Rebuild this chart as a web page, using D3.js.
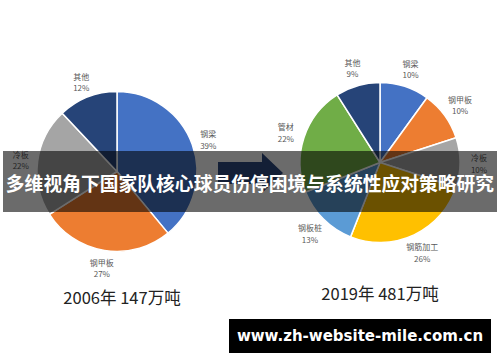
<!DOCTYPE html>
<html><head><meta charset="utf-8">
<script src="https://cdn.jsdelivr.net/npm/d3@7/dist/d3.min.js"></script>
<style>
html,body{margin:0;padding:0;background:#fff;}
svg{display:block;}
</style></head>
<body>
<svg id="chart" width="500" height="362"></svg>
<script>
// ---- data ----
const cats2006 = ["钢梁", "钢甲板", "冷板", "其他"];
const vals2006 = [39, 27, 22, 12];
const cols2006 = ["#4472C4", "#ED7D31", "#A5A5A5", "#264478"];

const cats2019 = ["钢梁", "钢甲板", "冷板", "钢筋加工", "钢板桩", "管材", "其他"];
const vals2019 = [10, 10, 10, 26, 13, 22, 9];
const cols2019 = ["#4472C4", "#ED7D31", "#A5A5A5", "#FFC000", "#5B9BD5", "#70AD47", "#264478"];

const captions = ["2006年 147万吨", "2019年 481万吨"];
const title = "多维视角下国家队核心球员伤停困境与系统性应对策略研究";
const watermark = "www.zh-website-mile.com.cn";

const svg = d3.select("#chart");
const font = "'Noto Sans CJK SC','Noto Sans',sans-serif";
const R = 80;

function drawPie(cx, cy, cats, vals, cols, labelR) {
  const g = svg.append("g").attr("transform", `translate(${cx},${cy})`);
  const pie = d3.pie().sort(null).value(d => d.v)(cats.map((c, i) => ({c, v: vals[i], col: cols[i]})));
  const arc = d3.arc().innerRadius(0).outerRadius(R);
  const lab = d3.arc().innerRadius(labelR).outerRadius(labelR);
  g.selectAll("path").data(pie).join("path")
    .attr("d", arc).attr("fill", d => d.data.col)
    .attr("stroke", "#fff").attr("stroke-width", 1.5).attr("stroke-linejoin", "round");
  const t = g.selectAll("text").data(pie).join("text")
    .attr("transform", d => `translate(${lab.centroid(d)})`)
    .attr("text-anchor", "middle")
    .attr("font-family", font).attr("font-size", 8).attr("fill", "#595959");
  t.append("tspan").attr("x", 0).attr("dy", "-0.2em").text(d => d.data.c);
  t.append("tspan").attr("x", 0).attr("dy", "1.45em").text(d => d.data.v + "%");
}

drawPie(117, 171.5, cats2006, vals2006, cols2006, 97);
drawPie(380, 162.5, cats2019, vals2019, cols2019, 99);

// arrow
svg.append("path")
  .attr("d", "M218,162 L262,162 L262,153 L283,173 L262,193 L262,184 L218,184 Z")
  .attr("fill", "#2F4A80");

// captions
svg.append("text").attr("x", 122).attr("y", 304).attr("text-anchor", "middle")
  .attr("font-family", font).attr("font-size", 16.5).attr("fill", "#222").text(captions[0]);
svg.append("text").attr("x", 380).attr("y", 300).attr("text-anchor", "middle")
  .attr("font-family", font).attr("font-size", 16.5).attr("fill", "#222").text(captions[1]);

// overlay band with title
svg.append("rect").attr("x", 3).attr("y", 151).attr("width", 494).attr("height", 61)
  .attr("fill", "rgba(0,0,0,0.58)");
svg.append("text").attr("x", 250).attr("y", 182).attr("text-anchor", "middle")
  .attr("dominant-baseline", "central")
  .attr("font-family", font).attr("font-weight", "bold").attr("font-size", 18.8)
  .attr("fill", "#fff").text(title);

// watermark
svg.append("rect").attr("x", 229).attr("y", 319).attr("width", 262).attr("height", 34).attr("fill", "#000");
svg.append("text").attr("x", 360).attr("y", 336).attr("text-anchor", "middle")
  .attr("dominant-baseline", "central")
  .attr("font-family", "'DejaVu Sans','Open Sans',sans-serif").attr("font-weight", "bold").attr("font-size", 15)
  .attr("fill", "#fff").text(watermark);
</script>
</body></html>
